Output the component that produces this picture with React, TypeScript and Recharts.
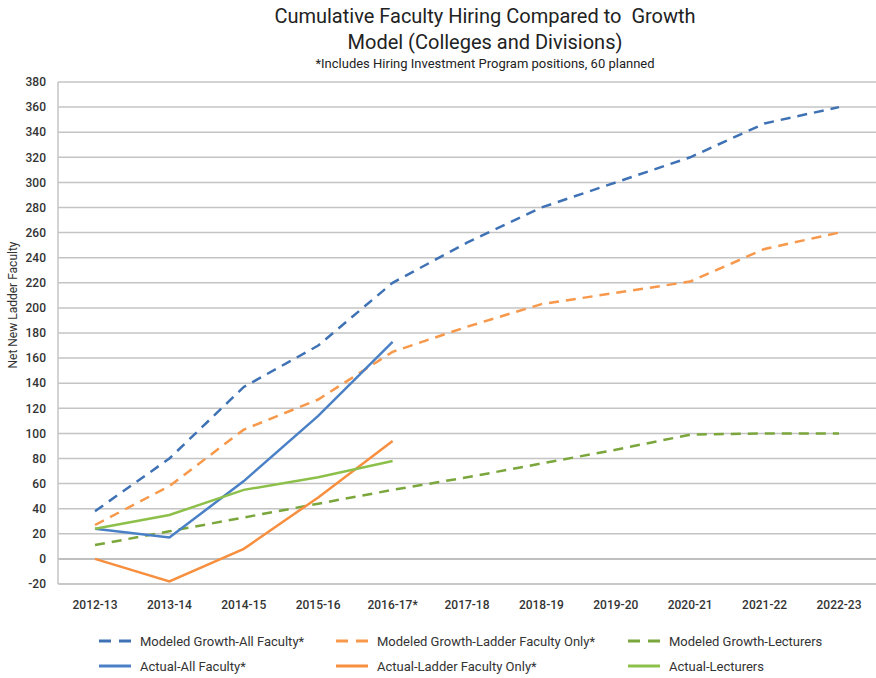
import React from "react";
import {
  LineChart,
  Line,
  XAxis,
  YAxis,
  CartesianGrid,
  ReferenceLine,
} from "recharts";

const years = [
  "2012-13", "2013-14", "2014-15", "2015-16", "2016-17*", "2017-18",
  "2018-19", "2019-20", "2020-21", "2021-22", "2022-23",
];

const modeledAll = [38, 80, 137, 170, 220, 252, 280, 300, 320, 347, 360];
const modeledLadder = [27, 58, 103, 127, 165, 185, 203, 212, 221, 247, 260];
const modeledLecturers = [11, 22, 33, 44, 55, 65, 76, 87, 99, 100, 100];
const actualAll = [24, 17, 62, 114, 173];
const actualLadder = [0, -18, 8, 49, 94];
const actualLecturers = [24, 35, 55, 65, 78];

const yTicks = [-20, 0, 20, 40, 60, 80, 100, 120, 140, 160, 180, 200, 220, 240, 260, 280, 300, 320, 340, 360, 380];

const data = years.map((year, i) => ({
  year,
  modeledAll: modeledAll[i],
  modeledLadder: modeledLadder[i],
  modeledLecturers: modeledLecturers[i],
  actualAll: actualAll[i],
  actualLadder: actualLadder[i],
  actualLecturers: actualLecturers[i],
}));

const series = [
  { key: "modeledAll", name: "Modeled Growth-All Faculty*", color: "#3f72b5", dashed: true },
  { key: "modeledLadder", name: "Modeled Growth-Ladder Faculty Only*", color: "#f7984a", dashed: true },
  { key: "modeledLecturers", name: "Modeled Growth-Lecturers", color: "#7aa63c", dashed: true },
  { key: "actualAll", name: "Actual-All Faculty*", color: "#4a80c6", dashed: false },
  { key: "actualLadder", name: "Actual-Ladder Faculty Only*", color: "#f78f3e", dashed: false },
  { key: "actualLecturers", name: "Actual-Lecturers", color: "#8dc04a", dashed: false },
];

const font = "Roboto, 'Open Sans', Arial, sans-serif";

// legend column positions (left of icon)
const legendCols = [99, 336, 628];

function LegendItem({ s, left, top }: { s: (typeof series)[number]; left: number; top: number }) {
  return (
    <div style={{ position: "absolute", left, top, display: "flex", alignItems: "center", height: 18 }}>
      <svg width={32} height={6} style={{ marginRight: 9 }}>
        <line
          x1={0}
          y1={3}
          x2={32}
          y2={3}
          stroke={s.color}
          strokeWidth={3}
          strokeDasharray={s.dashed ? "12 8" : undefined}
        />
      </svg>
      <span style={{ fontSize: 13, color: "#333", whiteSpace: "nowrap" }}>{s.name}</span>
    </div>
  );
}

export default function App() {
  return (
    <div style={{ position: "absolute", left: 0, top: 0, width: 876, height: 678, background: "#fff", fontFamily: font }}>
      <div style={{ position: "absolute", left: 0, width: 970, top: 3, textAlign: "center", color: "#222" }}>
        <div style={{ fontSize: 20, lineHeight: "26px" }}>Cumulative Faculty Hiring Compared to&nbsp; Growth</div>
        <div style={{ fontSize: 20, lineHeight: "26px" }}>Model (Colleges and Divisions)</div>
        <div style={{ fontSize: 13, lineHeight: "18px" }}>
          *Includes Hiring Investment Program positions, 60 planned
        </div>
      </div>
      <div
        style={{
          position: "absolute",
          left: 13,
          top: 305,
          transform: "translate(-50%, -50%) rotate(-90deg)",
          fontSize: 12,
          color: "#333",
          whiteSpace: "nowrap",
        }}
      >
        Net New Ladder Faculty
      </div>
      <LineChart
        width={876}
        height={678}
        data={data}
        margin={{ top: 82, right: 0, bottom: 64, left: 8 }}
        style={{ position: "absolute", left: 0, top: 0 }}
      >
        <CartesianGrid vertical={false} stroke="#c4c4c4" strokeWidth={1.5} />
        <XAxis
          dataKey="year"
          height={30}
          padding={{ left: 37, right: 37 }}
          tickLine={false}
          axisLine={{ stroke: "#c4c4c4", strokeWidth: 1.5 }}
          tick={{ fill: "#333", fontSize: 12, fontWeight: 500, fontFamily: font }}
          tickMargin={10}
          interval={0}
        />
        <YAxis
          width={50}
          domain={[-20, 380]}
          ticks={yTicks}
          interval={0}
          tickLine={false}
          axisLine={{ stroke: "#c4c4c4", strokeWidth: 1.5 }}
          tick={{ fill: "#333", fontSize: 12, fontWeight: 500, fontFamily: font }}
          tickMargin={6}
        />
        <ReferenceLine y={0} stroke="#b8b8b8" strokeWidth={1.5} />
        {series.map((s) => (
          <Line
            key={s.key}
            dataKey={s.key}
            name={s.name}
            type="linear"
            stroke={s.color}
            strokeWidth={2.5}
            strokeDasharray={s.dashed ? "10 7" : undefined}
            dot={false}
            activeDot={false}
            isAnimationActive={false}
          />
        ))}
      </LineChart>
      {series.map((s, i) => (
        <LegendItem key={s.key} s={s} left={legendCols[i % 3]} top={i < 3 ? 632 : 657} />
      ))}
    </div>
  );
}
